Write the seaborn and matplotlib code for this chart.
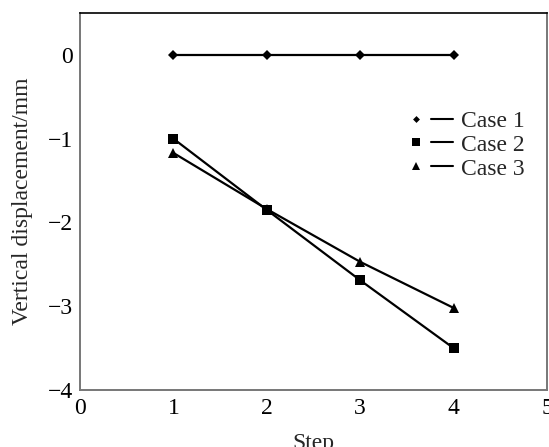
import matplotlib
matplotlib.use("Agg")
import matplotlib.pyplot as plt
from matplotlib.lines import Line2D
from matplotlib.legend_handler import HandlerTuple
import pandas as pd
import seaborn as sns

steps = [1, 2, 3, 4]
case1 = [0.0, 0.0, 0.0, 0.0]
case2 = [-1.00, -1.85, -2.69, -3.50]
case3 = [-1.17, -1.84, -2.47, -3.02]
case_names = ["Case 1", "Case 2", "Case 3"]
x_ticks = [0, 1, 2, 3, 4, 5]
y_ticks = [0, -1, -2, -3, -4]

df = pd.DataFrame({
    "Step": steps * 3,
    "Displacement": case1 + case2 + case3,
    "Case": [c for c in case_names for _ in steps],
})

sns.set_style("white")
plt.rcParams["font.family"] = ["Liberation Serif", "DejaVu Serif"]

fig = plt.figure(figsize=(5.49, 4.47), dpi=100)
ax = fig.add_axes([0.1457, 0.1275, 0.8506, 0.8434])

marker_map = {"Case 1": "D", "Case 2": "s", "Case 3": "^"}
size_map = {"Case 1": 5, "Case 2": 7, "Case 3": 7}

for name in case_names:
    sub = df[df["Case"] == name]
    sns.lineplot(data=sub, x="Step", y="Displacement", ax=ax, color="black",
                 linewidth=1.6, marker=marker_map[name], markersize=size_map[name],
                 markeredgewidth=0, legend=False, estimator=None)

ax.set_xlim(0, 5)
ax.set_ylim(-4, 0.5)
ax.set_xticks(x_ticks)
ax.set_yticks(y_ticks)
ax.set_xticklabels([str(v) for v in x_ticks])
ax.set_yticklabels(["0" if v == 0 else "\u2212" + str(-v) for v in y_ticks])
ax.tick_params(direction="in", length=4, width=1, colors="#666666",
               labelcolor="black", labelsize=17)
ax.tick_params(axis="x", pad=6)
ax.tick_params(axis="y", pad=5)
ax.set_xlabel("Step", fontsize=17, labelpad=10)
ax.set_ylabel("Vertical displacement/mm", fontsize=17, labelpad=11)

for side in ["left", "bottom", "right"]:
    ax.spines[side].set_color("#777777")
    ax.spines[side].set_linewidth(1.4)
ax.spines["top"].set_color("black")
ax.spines["top"].set_linewidth(1.2)

handles = []
for name in case_names:
    mk = Line2D([], [], linestyle="none", marker=marker_map[name],
                markersize=size_map[name] - 1.5, color="black", markeredgewidth=0)
    ln = Line2D([], [], color="black", linewidth=1.5)
    handles.append((mk, ln))

ax.legend(handles, case_names, handler_map={tuple: HandlerTuple(ndivide=None, pad=0.15)},
          loc="center left", bbox_to_anchor=(0.697, 0.65), frameon=False,
          fontsize=17, handlelength=2.0, handletextpad=0.35, labelspacing=0.1,
          borderpad=0, borderaxespad=0)

fig.savefig("out.png", dpi=100)
